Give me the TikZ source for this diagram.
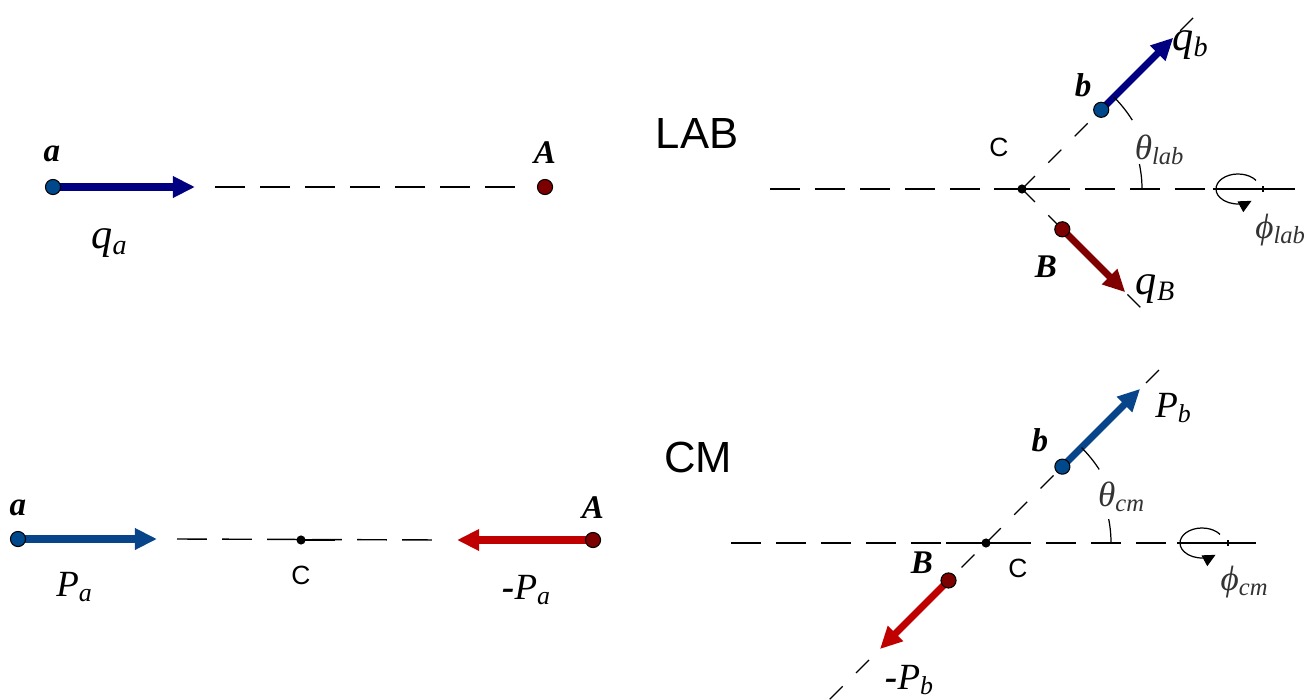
\documentclass[tikz,border=0pt]{standalone}
\usepackage{fontspec}
\setmainfont{Liberation Serif}
\newfontfamily\sansfont{Liberation Sans}
\usetikzlibrary{arrows.meta, calc}

\definecolor{qnavy}{RGB}{0,0,128}
\definecolor{qmaroon}{RGB}{128,0,0}
\definecolor{pblue}{RGB}{8,68,138}
\definecolor{pred}{RGB}{192,0,0}
\definecolor{dotblue}{RGB}{0,72,140}
\definecolor{dotred}{RGB}{125,0,0}

\begin{document}
\begin{tikzpicture}[
    x=0.01cm, y=0.01cm,
    axisline/.style={line width=0.4pt, dash pattern=on 8.5pt off 4.3pt},
    rayline/.style={line width=0.35pt, dash pattern=on 5.2pt off 5.4pt},
    vec/.style={line width=2pt, -{Triangle[length=6.3pt,width=5.8pt]}},
    bluedot/.style={circle, draw=black, line width=0.3pt, fill=dotblue, inner sep=0pt, minimum size=4.3pt},
    reddot/.style={bluedot, fill=dotred},
    cmdot/.style={circle, fill=black, inner sep=0pt, minimum size=2.6pt},
    ptlabel/.style={font=\fontsize{9.4}{10}\selectfont\bfseries\itshape},
    clabel/.style={font=\sansfont\fontsize{7.5}{8}\selectfont},
    framelabel/.style={font=\sansfont\fontsize{12.4}{14}\selectfont},
    qlabel/.style={font=\fontsize{12}{12}\selectfont\itshape},
    plabel/.style={font=\fontsize{10.5}{11}\selectfont\itshape},
    anglabel/.style={font=\fontsize{10}{11}\selectfont\itshape, text=black!80},
    arcline/.style={line width=0.35pt},
    spinarrow/.style={line width=0.35pt, -{Triangle[length=3.6pt,width=3.4pt]}}
]
    \useasboundingbox (0,0) rectangle (1309,-700);

    \def\ang{45}

    % Frame titles
    \node[framelabel] (lab) at (697,-133) {LAB};
    \node[framelabel] (cm) at (698,-457) {CM};

    % Top left: lab frame before the collision
    \coordinate (a1) at (53,-187);
    \coordinate (qa) at (195,-187);
    \coordinate (A1) at (545,-187);
    \draw[vec, qnavy] (a1) -- (qa);
    \draw[axisline] ($(qa)+(20,0)$) -- ($(A1)+(-26,0)$);
    \node[bluedot] (adot1) at (a1) {};
    \node[reddot] (Adot1) at (A1) {};
    \node[ptlabel] (alab1) at (52,-154) {a};
    \node[ptlabel] (Alab1) at (545,-153) {A};
    \node[qlabel] (qalab) at (110,-243) {q\textsubscript{a}};

    % Top right: lab frame after the collision
    \coordinate (C1) at (1022,-189);
    \coordinate (h1l) at (770,-189);
    \coordinate (h1r) at (1305,-189);
    \coordinate (b1) at ($(C1)+(\ang:112)$);
    \coordinate (qb) at ($(C1)+(\ang:214)$);
    \coordinate (B1) at ($(C1)+(-\ang:57)$);
    \coordinate (qB) at ($(C1)+(-\ang:146)$);
    \coordinate (L1) at (1238,-189);
    \draw[axisline] (h1l) -- (h1r);
    \draw[line width=0.4pt] ($(C1)+(-28,0)$) -- ($(C1)+(26,0)$);
    \draw[rayline] (C1) -- ($(C1)+(\ang:246)$);
    \draw[rayline] (C1) -- ($(C1)+(-\ang:180)$);
    \draw[vec, qnavy] (b1) -- (qb);
    \draw[vec, qmaroon] (B1) -- (qB);
    % angle ticks and rotation
    \draw[arcline] ($(C1)+(\ang:130)$) arc[start angle=\ang, end angle=32, radius=130];
    \draw[arcline] ($(C1)+(12:120)$) arc[start angle=12, end angle=0, radius=120];
    \draw[line width=0.4pt] ($(L1)+(-25,0)$) -- ($(L1)+(35,0)$);
    \draw[line width=0.4pt] ($(L1)+(25,3)$) -- ($(L1)+(25,-3)$);
    \draw[spinarrow] ($(L1)+(35:22 and 15)$) arc[start angle=35, end angle=308, x radius=22, y radius=15];
    \node[cmdot] (Cdot1) at (C1) {};
    \node[bluedot] (bdot1) at (b1) {};
    \node[reddot] (Bdot1) at (B1) {};
    \node[clabel] (Clab1) at (999,-147) {C};
    \node[ptlabel] (blab1) at (1083,-85) {b};
    \node[qlabel] (qblab) at (1191,-45) {q\textsubscript{b}};
    \node[ptlabel] (Blab1) at (1046,-267) {B};
    \node[qlabel] (qBlab) at (1156,-289) {q\textsubscript{B}};
    \node[anglabel] (thlab) at (1160,-150) {θ\textsubscript{lab}};
    \node[anglabel] (phlab) at (1281,-230) {ϕ\textsubscript{lab}};

    % Bottom left: centre of mass frame before the collision
    \coordinate (a2) at (18,-539);
    \coordinate (Pa) at (157,-539);
    \coordinate (C2) at (301,-540);
    \coordinate (mPa) at (457,-540);
    \coordinate (A2) at (593,-540);
    \draw[axisline] ($(Pa)+(20,0)$) -- ($(mPa)+(-15,0)$);
    \draw[line width=0.4pt] (C2) -- ($(C2)+(34,0)$);
    \draw[vec, pblue] (a2) -- (Pa);
    \draw[vec, pred] (A2) -- (mPa);
    \node[bluedot] (adot2) at (a2) {};
    \node[cmdot] (Cdot2) at (C2) {};
    \node[reddot] (Adot2) at (A2) {};
    \node[ptlabel] (alab2) at (18,-508) {a};
    \node[ptlabel] (Alab2) at (593,-508) {A};
    \node[clabel] (Clab2) at (301,-575) {C};
    \node[plabel] (Palab) at (75,-587) {P\textsubscript{a}};
    \node[plabel] (mPalab) at (527,-590) {\textbf{-}P\textsubscript{a}};

    % Bottom right: centre of mass frame after the collision
    \coordinate (C3) at (986,-543);
    \coordinate (h3l) at (731,-543);
    \coordinate (h3r) at (1269,-543);
    \coordinate (b3) at ($(C3)+(\ang:108)$);
    \coordinate (Pb) at ($(C3)+(\ang:218)$);
    \coordinate (B3) at ($(C3)+(180+\ang:53)$);
    \coordinate (mPb) at ($(C3)+(180+\ang:150)$);
    \coordinate (L3) at (1202,-543);
    \draw[axisline] (h3l) -- (h3r);
    \draw[line width=0.4pt] ($(C3)+(-40,0)$) -- ($(C3)+(24,0)$);
    \draw[rayline] ($(C3)+(180+\ang:221)$) -- ($(C3)+(\ang:247)$);
    \draw[vec, pblue] (b3) -- (Pb);
    \draw[vec, pred] (B3) -- (mPb);
    % angle ticks and rotation
    \draw[arcline] ($(C3)+(\ang:135)$) arc[start angle=\ang, end angle=33, radius=135];
    \draw[arcline] ($(C3)+(11:125)$) arc[start angle=11, end angle=0, radius=125];
    \draw[line width=0.4pt] ($(L3)+(-25,0)$) -- ($(L3)+(30,0)$);
    \draw[line width=0.4pt] ($(L3)+(26,3)$) -- ($(L3)+(26,-3)$);
    \draw[spinarrow] ($(L3)+(35:22 and 15)$) arc[start angle=35, end angle=308, x radius=22, y radius=15];
    \node[cmdot] (Cdot3) at (C3) {};
    \node[bluedot] (bdot3) at (b3) {};
    \node[reddot] (Bdot3) at (B3) {};
    \node[clabel] (Clab3) at (1018,-568) {C};
    \node[ptlabel] (blab3) at (1040,-440) {b};
    \node[ptlabel] (Blab3) at (922,-563) {B};
    \node[plabel] (Pblab) at (1174,-408) {P\textsubscript{b}};
    \node[plabel] (mPblab) at (910,-680) {\textbf{-}P\textsubscript{b}};
    \node[anglabel] (thcm) at (1122,-497) {θ\textsubscript{cm}};
    \node[anglabel] (phcm) at (1245,-582) {ϕ\textsubscript{cm}};

\end{tikzpicture}
\end{document}
